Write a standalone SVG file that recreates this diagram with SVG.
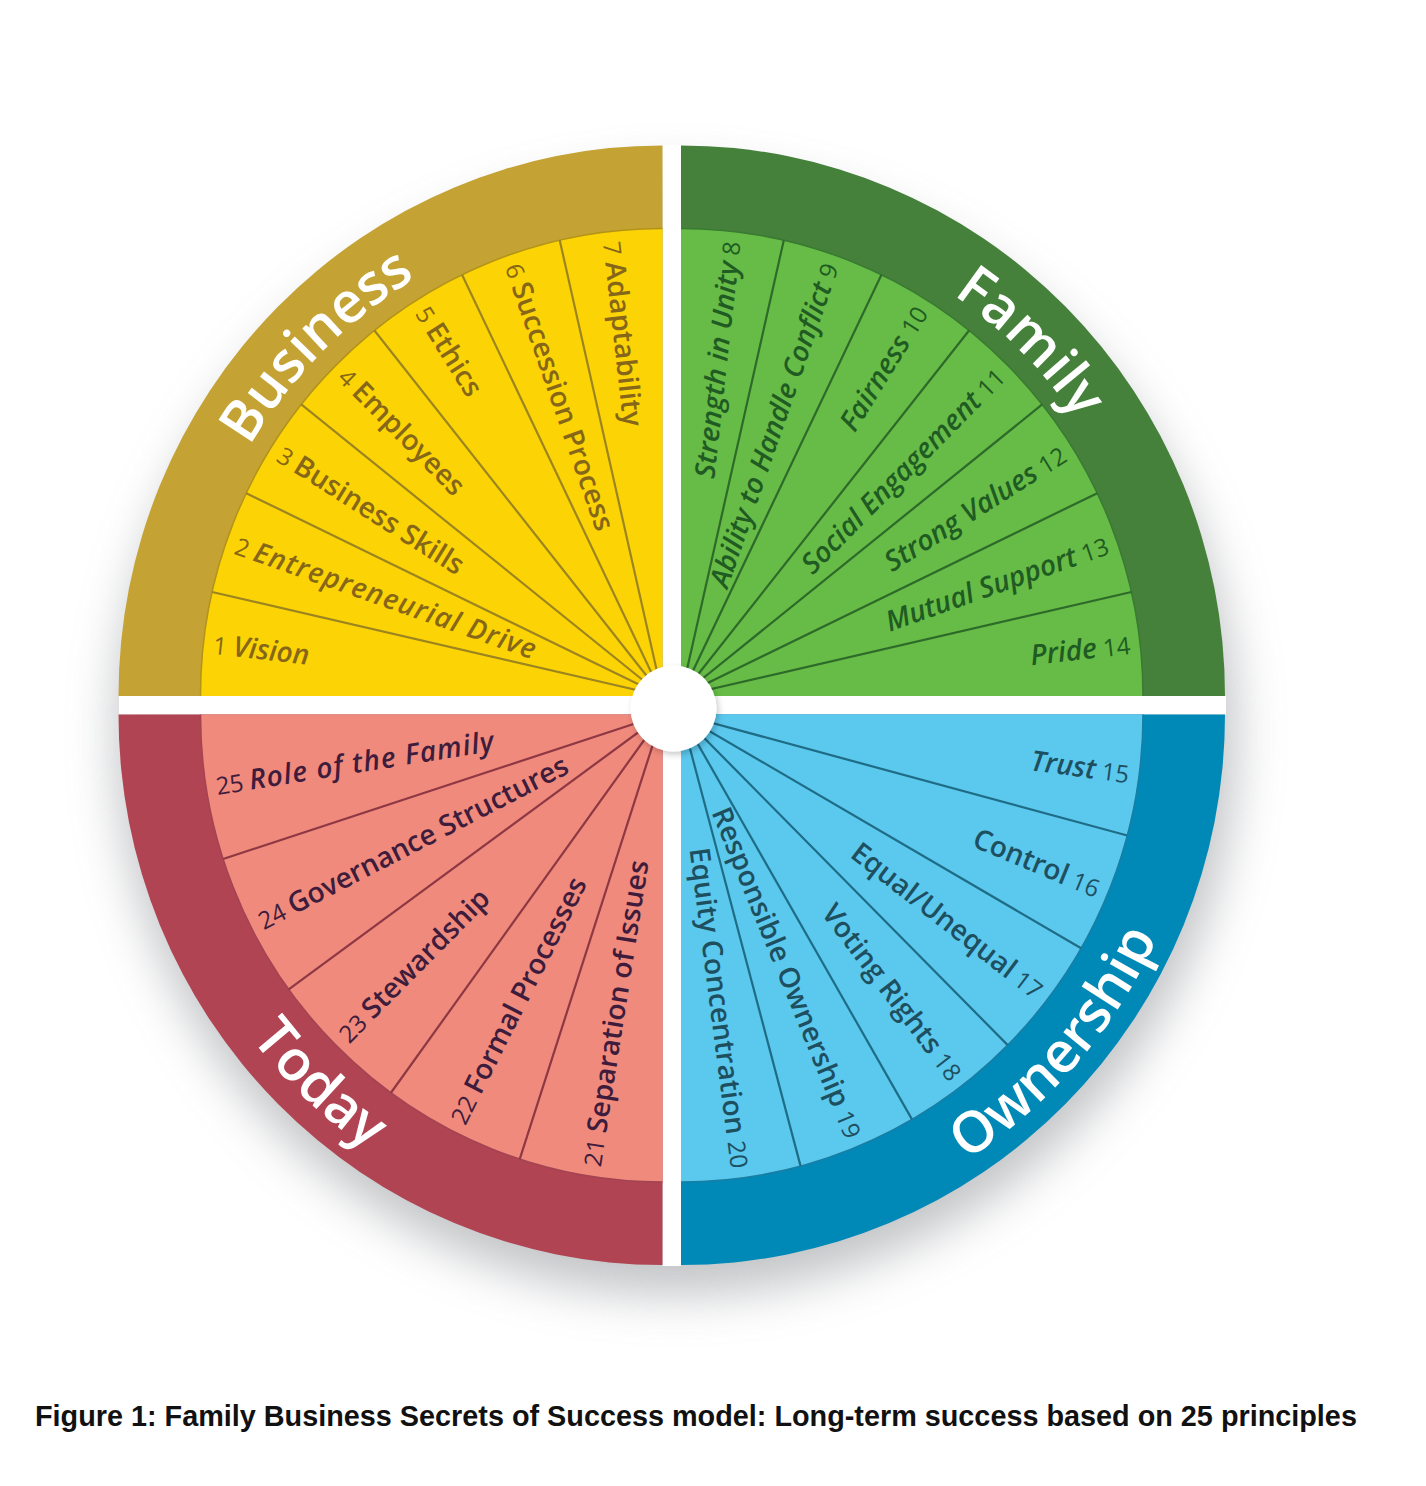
<svg xmlns="http://www.w3.org/2000/svg" width="1426" height="1486" viewBox="0 0 1426 1486">
<defs>
<filter id="blur" x="-20%" y="-20%" width="140%" height="140%"><feGaussianBlur stdDeviation="24"/></filter>
<filter id="cs" x="-50%" y="-50%" width="200%" height="200%"><feDropShadow dx="2" dy="3" stdDeviation="3" flood-color="#000" flood-opacity="0.22"/></filter>
<path id="pB" d="M-481,0 A481,481 0 0 1 0,-481"/>
<path id="pF" d="M0,-481 A481,481 0 0 1 481,0"/>
<path id="pO" d="M0,525 A525,525 0 0 0 525,0"/>
<path id="pT" d="M-521,0 A521,521 0 0 0 0,521"/>
</defs>
<style>
.t{font-family:'Open Sans','Noto Sans',sans-serif;font-size:56px;font-weight:600;fill:#fff}
.lb{font-family:'Open Sans','Noto Sans',sans-serif;font-size:28px;font-weight:600}
.n{font-size:24px;font-weight:400;font-style:normal}
.i{font-style:italic}
.w{letter-spacing:1.1px}
.rb{stroke:#9C8420;stroke-width:2.2;fill:none}
.rf{stroke:#2E6A2A;stroke-width:2.2;fill:none}
.ro{stroke:#1F6C86;stroke-width:2.2;fill:none}
.rt{stroke:#8E3844;stroke-width:2.2;fill:none}
.cb{fill:#866619}
.cf{fill:#1F5B22}
.co{fill:#1E4F5F}
.ct{fill:#3E1C3C}
</style>
<rect x="0" y="0" width="1426" height="1486" fill="#fff"/>
<circle cx="676" cy="735" r="560" fill="#a9abaf" opacity="0.7" filter="url(#blur)"/>
<rect x="662.5" y="145" width="18.5" height="1121" fill="#fff"/>
<rect x="119" y="696" width="1107" height="18.5" fill="#fff"/>

<g id="business" transform="translate(662.5,696) scale(1,1.012)">
<path d="M0,0 L-544,0 A544,544 0 0 1 0,-544 Z" fill="#C4A234"/>
<path d="M0,0 L-462,0 A462,462 0 0 1 0,-462 Z" fill="#FCD405"/>
<path d="M-462,0 A462,462 0 0 1 0,-462" stroke="#B39418" stroke-width="1.5" fill="none"/>
<g class="rb">
<line x1="0" y1="0" x2="-450.42" y2="-102.80"/>
<line x1="0" y1="0" x2="-416.25" y2="-200.45"/>
<line x1="0" y1="0" x2="-361.21" y2="-288.05"/>
<line x1="0" y1="0" x2="-288.05" y2="-361.21"/>
<line x1="0" y1="0" x2="-200.45" y2="-416.25"/>
<line x1="0" y1="0" x2="-102.80" y2="-450.42"/>
</g>
<text class="t"><textPath href="#pB" startOffset="50%" text-anchor="middle">Business</textPath></text>
<g class="lb cb">
<text transform="rotate(6.43)" x="-452" y="9"><tspan class="n">1 </tspan><tspan class="i">Vision</tspan></text>
<text transform="rotate(19.29)" x="-452" y="9"><tspan class="n">2 </tspan><tspan class="i w">Entrepreneurial Drive</tspan></text>
<text transform="rotate(32.14)" x="-452" y="9"><tspan class="n">3 </tspan><tspan>Business Skills</tspan></text>
<text transform="rotate(45)" x="-452" y="9"><tspan class="n">4 </tspan><tspan>Employees</tspan></text>
<text transform="rotate(57.86)" x="-452" y="9"><tspan class="n">5 </tspan><tspan>Ethics</tspan></text>
<text transform="rotate(70.71)" x="-452" y="9"><tspan class="n">6 </tspan><tspan>Succession Process</tspan></text>
<text transform="rotate(83.57)" x="-452" y="9"><tspan class="n">7 </tspan><tspan>Adaptability</tspan></text>
</g>
</g>

<g id="family" transform="translate(681,696) scale(1,1.012)">
<path d="M0,0 L0,-544 A544,544 0 0 1 544,0 Z" fill="#45813B"/>
<path d="M0,0 L0,-462 A462,462 0 0 1 462,0 Z" fill="#66BC46"/>
<path d="M0,-462 A462,462 0 0 1 462,0" stroke="#3A7A33" stroke-width="1.5" fill="none"/>
<g class="rf">
<line x1="0" y1="0" x2="102.80" y2="-450.42"/>
<line x1="0" y1="0" x2="200.45" y2="-416.25"/>
<line x1="0" y1="0" x2="288.05" y2="-361.21"/>
<line x1="0" y1="0" x2="361.21" y2="-288.05"/>
<line x1="0" y1="0" x2="416.25" y2="-200.45"/>
<line x1="0" y1="0" x2="450.42" y2="-102.80"/>
</g>
<text class="t"><textPath href="#pF" startOffset="50%" text-anchor="middle">Family</textPath></text>
<g class="lb cf" text-anchor="end">
<text transform="rotate(-83.57)" x="452" y="9"><tspan class="i">Strength in Unity</tspan><tspan class="n"> 8</tspan></text>
<text transform="rotate(-70.71)" x="452" y="9"><tspan class="i">Ability to Handle Conflict</tspan><tspan class="n"> 9</tspan></text>
<text transform="rotate(-57.86)" x="452" y="9"><tspan class="i">Fairness</tspan><tspan class="n"> 10</tspan></text>
<text transform="rotate(-45)" x="452" y="9"><tspan class="i">Social Engagement</tspan><tspan class="n"> 11</tspan></text>
<text transform="rotate(-32.14)" x="452" y="9"><tspan class="i">Strong Values</tspan><tspan class="n"> 12</tspan></text>
<text transform="rotate(-19.29)" x="452" y="9"><tspan class="i">Mutual Support</tspan><tspan class="n"> 13</tspan></text>
<text transform="rotate(-6.43)" x="452" y="9"><tspan class="i">Pride</tspan><tspan class="n"> 14</tspan></text>
</g>
</g>

<g id="ownership" transform="translate(681,714.5) scale(1,1.012)">
<path d="M0,0 L544,0 A544,544 0 0 1 0,544 Z" fill="#0089B7"/>
<path d="M0,0 L462,0 A462,462 0 0 1 0,462 Z" fill="#5BC8EE"/>
<path d="M462,0 A462,462 0 0 1 0,462" stroke="#1A7DA3" stroke-width="1.5" fill="none"/>
<g class="ro">
<line x1="0" y1="0" x2="446.26" y2="119.58"/>
<line x1="0" y1="0" x2="400.10" y2="231.0"/>
<line x1="0" y1="0" x2="326.68" y2="326.68"/>
<line x1="0" y1="0" x2="231.0" y2="400.10"/>
<line x1="0" y1="0" x2="119.58" y2="446.26"/>
</g>
<text class="t"><textPath href="#pO" startOffset="54.5%" text-anchor="middle">Ownership</textPath></text>
<g class="lb co" text-anchor="end">
<text transform="rotate(7.5)" x="452" y="9"><tspan class="i">Trust</tspan><tspan class="n"> 15</tspan></text>
<text transform="rotate(22.5)" x="452" y="9"><tspan>Control</tspan><tspan class="n"> 16</tspan></text>
<text transform="rotate(37.5)" x="452" y="9"><tspan>Equal/Unequal</tspan><tspan class="n"> 17</tspan></text>
<text transform="rotate(52.5)" x="452" y="9"><tspan>Voting Rights</tspan><tspan class="n"> 18</tspan></text>
<text transform="rotate(67.5)" x="452" y="9"><tspan>Responsible Ownership</tspan><tspan class="n"> 19</tspan></text>
<text transform="rotate(82.5)" x="452" y="9"><tspan>Equity Concentration</tspan><tspan class="n"> 20</tspan></text>
</g>
</g>

<g id="today" transform="translate(662.5,714.5) scale(1,1.012)">
<path d="M0,0 L0,544 A544,544 0 0 1 -544,0 Z" fill="#B04453"/>
<path d="M0,0 L0,462 A462,462 0 0 1 -462,0 Z" fill="#F08A7C"/>
<path d="M0,462 A462,462 0 0 1 -462,0" stroke="#A44452" stroke-width="1.5" fill="none"/>
<g class="rt">
<line x1="0" y1="0" x2="-142.77" y2="439.39"/>
<line x1="0" y1="0" x2="-271.56" y2="373.77"/>
<line x1="0" y1="0" x2="-373.77" y2="271.56"/>
<line x1="0" y1="0" x2="-439.39" y2="142.77"/>
</g>
<text class="t"><textPath href="#pT" startOffset="52%" text-anchor="middle">Today</textPath></text>
<g class="lb ct">
<text transform="rotate(-81)" x="-452" y="9"><tspan class="n">21 </tspan><tspan>Separation of Issues</tspan></text>
<text transform="rotate(-63)" x="-452" y="9"><tspan class="n">22 </tspan><tspan>Formal Processes</tspan></text>
<text transform="rotate(-45)" x="-452" y="9"><tspan class="n">23 </tspan><tspan>Stewardship</tspan></text>
<text transform="rotate(-27)" x="-452" y="9"><tspan class="n">24 </tspan><tspan>Governance Structures</tspan></text>
<text transform="rotate(-9)" x="-452" y="9"><tspan class="n">25 </tspan><tspan class="i w">Role of the Family</tspan></text>
</g>
</g>

<circle id="hub" cx="673.5" cy="708.5" r="43" fill="#fff" filter="url(#cs)"/>

<text id="caption" x="35" y="1426" font-family="'Liberation Sans',Arial,sans-serif" font-weight="700" font-size="28.8" fill="#111">Figure 1: Family Business Secrets of Success model: Long-term success based on 25 principles</text>
</svg>
